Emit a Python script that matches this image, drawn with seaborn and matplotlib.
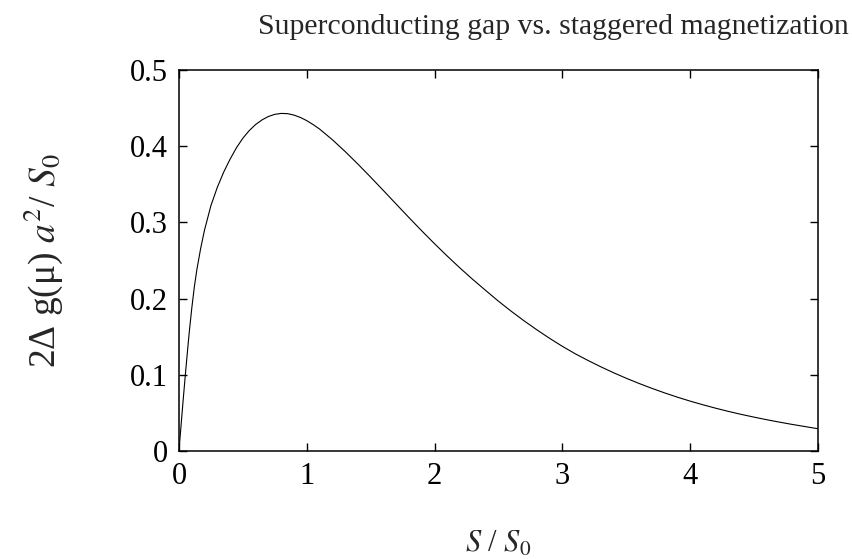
import numpy as np
import pandas as pd
import matplotlib
matplotlib.use("Agg")
import matplotlib.pyplot as plt
import seaborn as sns

# values (S/S0 -> 2 Delta g(mu) a^2 / S0)
s_ratio = [0.0, 0.02, 0.035, 0.05, 0.065, 0.08, 0.1, 0.12, 0.14, 0.17, 0.2,
           0.25, 0.3, 0.35, 0.4, 0.45, 0.5, 0.55, 0.6, 0.65, 0.7, 0.75, 0.8,
           0.85, 0.9, 0.95, 1.0, 1.05, 1.1, 1.2, 1.3, 1.4, 1.5, 1.6, 1.7, 1.8,
           1.9, 2.0, 2.1, 2.2, 2.3, 2.4, 2.5, 2.6, 2.7, 2.8, 2.9, 3.0, 3.1,
           3.2, 3.3, 3.4, 3.5, 3.6, 3.7, 3.8, 3.9, 4.0, 4.1, 4.2, 4.3, 4.4,
           4.5, 4.6, 4.7, 4.8, 4.9, 5.0]
gap = [0.0, 0.041, 0.071, 0.1, 0.128, 0.155, 0.187, 0.215, 0.238, 0.266, 0.29,
       0.322, 0.346, 0.366, 0.383, 0.398, 0.4105, 0.4205, 0.4285, 0.4345, 0.439, 0.4418, 0.443,
       0.4427, 0.4408, 0.4377, 0.4335, 0.4283, 0.4225, 0.4085, 0.393, 0.3765, 0.3593, 0.3417, 0.3239, 0.3062,
       0.2888, 0.2719, 0.2556, 0.2399, 0.2249, 0.2106, 0.1965, 0.1833, 0.1708, 0.159, 0.1478, 0.1373, 0.1276,
       0.1188, 0.1105, 0.1027, 0.0954, 0.0886, 0.0822, 0.0762, 0.0706, 0.0654, 0.0606, 0.0561, 0.0519, 0.048,
       0.0444, 0.041, 0.0378, 0.0348, 0.032, 0.0292]

x_ticks = [0, 1, 2, 3, 4, 5]
x_labels = ["0", "1", "2", "3", "4", "5"]
y_ticks = [0, 0.1, 0.2, 0.3, 0.4, 0.5]
y_labels = ["0", "0.1", "0.2", "0.3", "0.4", "0.5"]

df = pd.DataFrame({"s": s_ratio, "gap": gap})

sns.set_style("ticks")
plt.rcParams["font.family"] = ["Liberation Serif", "DejaVu Serif"]
plt.rcParams["mathtext.fontset"] = "stix"

fig = plt.figure(figsize=(8.53, 5.59), dpi=100)
ax = fig.add_axes([0.2098, 0.1932, 0.7493, 0.6816])

sns.lineplot(data=df, x="s", y="gap", color="black", linewidth=0.8, ax=ax)

ax.set_xlim(0, 5)
ax.set_ylim(0, 0.5)
ax.set_xticks(x_ticks)
ax.set_xticklabels(x_labels)
ax.set_yticks(y_ticks)
ax.set_yticklabels(y_labels)
ax.tick_params(direction="in", length=6, width=1, top=True, right=True,
               labelsize=22, pad=8, colors="black")
for sp in ax.spines.values():
    sp.set_visible(True)
    sp.set_linewidth(1.1)
    sp.set_color("black")

ax.set_xlabel("$S$ / $S_0$", fontsize=22)
ax.xaxis.set_label_coords(0.5, -0.205)
ax.set_ylabel("2Δ g(μ) $a^2$/ $S_0$", fontsize=27)
ax.yaxis.set_label_coords(-0.178, 0.5)

fig.text(553 / 853, 1 - 27 / 559, "Superconducting gap vs. staggered magnetization",
         ha="center", va="center", fontsize=21.4)

fig.savefig("out.png", dpi=100)
